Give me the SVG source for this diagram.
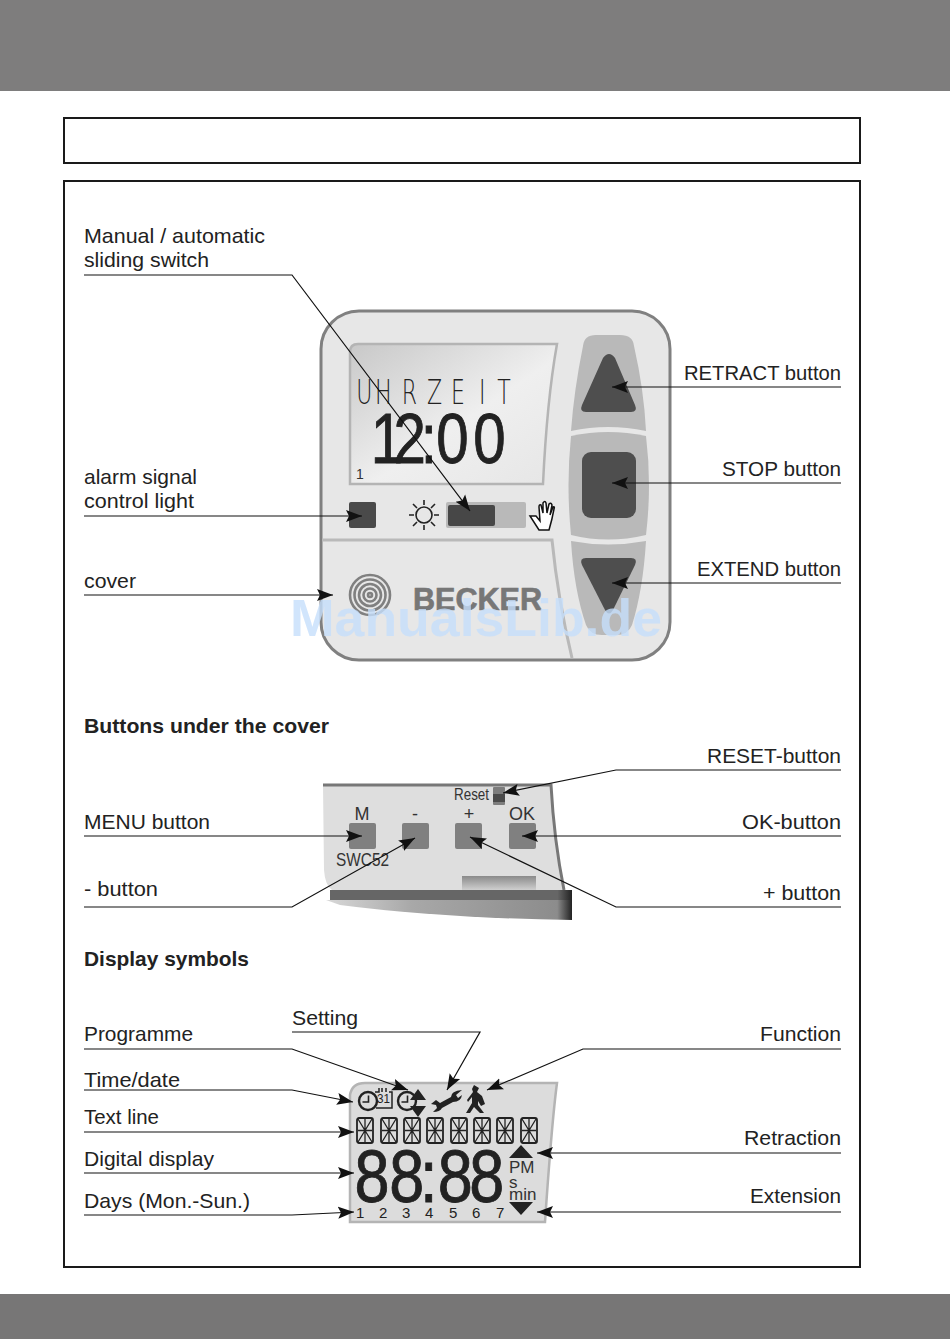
<svg xmlns="http://www.w3.org/2000/svg" xmlns:xlink="http://www.w3.org/1999/xlink" width="950" height="1339" viewBox="0 0 950 1339">
<style>
text{font-family:"Liberation Sans",Arial,sans-serif;fill:#222}
.l{font-size:21px}
.h{font-size:21px;font-weight:bold}
.c{fill:none;stroke:#111;stroke-width:1.2;marker-end:url(#a)}
.n{font-size:18px;fill:#333;text-anchor:middle}
.b{fill:#808080}
</style>
<defs>
<marker id="a" markerUnits="userSpaceOnUse" markerWidth="18" markerHeight="14" refX="16" refY="7" orient="auto">
<path d="M16 7L0 1L3 7L0 13Z" fill="#111"/>
</marker>
<linearGradient id="lcd" x1="0" y1="0" x2="1" y2="1"><stop offset="0" stop-color="#c8c8c8"/><stop offset=".55" stop-color="#efefef"/><stop offset="1" stop-color="#e6e6e6"/></linearGradient>
<linearGradient id="slot" x1="0" y1="0" x2="0" y2="1"><stop offset="0" stop-color="#8a8a8a"/><stop offset="1" stop-color="#cfcfcf"/></linearGradient>
<linearGradient id="rim" x1="0" y1="0" x2="1" y2="0"><stop offset="0" stop-color="#d8d8d8"/><stop offset=".35" stop-color="#a8a8a8"/><stop offset=".94" stop-color="#8c8c8c"/><stop offset="1" stop-color="#222"/></linearGradient>
<linearGradient id="rim2" x1="0" y1="0" x2="1" y2="0"><stop offset="0" stop-color="#666"/><stop offset=".94" stop-color="#666"/><stop offset="1" stop-color="#222"/></linearGradient>
<g id="seg"><rect x="0" y="0" width="16" height="25" rx="2" fill="none" stroke="#222" stroke-width="1.8"/><path d="M8 1V24M1 12.5H15M1 1L15 24M15 1L1 24" fill="none" stroke="#222" stroke-width="1.3"/></g>
<g id="clock"><circle r="9" fill="#dcdcdc" stroke="#222" stroke-width="2.4"/><path d="M0.5 -5.5V1H-5.5" fill="none" stroke="#222" stroke-width="1.6"/></g>
</defs>
<rect width="950" height="1339" fill="#fff"/>
<rect id="top-bar" width="950" height="91" fill="#7e7d7d"/>
<rect id="bottom-bar" y="1294" width="950" height="45" fill="#777676"/>
<rect id="title-box" x="64" y="118" width="796" height="45" fill="none" stroke="#1a1a1a" stroke-width="2"/>
<rect id="main-box" x="64" y="181" width="796" height="1086" fill="none" stroke="#1a1a1a" stroke-width="2"/>

<g id="device">
<rect x="321" y="311" width="349" height="349" rx="38" fill="#e7e7e7" stroke="#808080" stroke-width="3"/>
<path d="M350 484V352Q350 344 358 344H557Q547 400 543 484Z" fill="url(#lcd)" stroke="#b4b4b4" stroke-width="2.5"/>
<path d="M583 346Q584 335 596 335H620Q633 335 634 346Q644 390 646 431Q608 423 571 431Q574 390 583 346Z" fill="#b9b9b9"/>
<path d="M571 436Q608 428 646 436Q652 485 646 535Q608 544 571 535Q566 485 571 436Z" fill="#b9b9b9"/>
<path d="M571 541Q608 548 646 541Q643 590 632 625Q628 635 616 635H602Q590 635 586 625Q574 590 571 541Z" fill="#b9b9b9"/>
<path d="M603 358Q609 350 615 358L635 405Q638 412 631 412H586Q579 412 582 405Z" fill="#4e4e4e"/>
<rect x="582" y="452" width="54" height="66" rx="9" fill="#4e4e4e"/>
<path d="M586 558H631Q638 558 635 565L613 610Q609 617 605 610L582 565Q579 558 586 558Z" fill="#4e4e4e"/>
<text transform="scale(.65 1)" x="548 577 618 657 694 737 765" y="404" font-size="34" style="font-family:'DejaVu Sans','Liberation Sans',sans-serif;font-weight:200;fill:#222">UHRZEIT</text>
<text transform="scale(.82 1)" x="452 480 513 532 577" y="463" font-size="71" style="fill:#222;stroke:#222;stroke-width:.9">12:00</text>
<text x="356" y="479" font-size="14" style="fill:#333">1</text>
<rect x="349" y="502" width="27" height="26" rx="2" fill="#4a4a4a"/>
<g fill="none" stroke="#222" stroke-width="1.6"><circle cx="424" cy="515" r="8"/><path d="M424 500V505M424 525V530M409 515H414M434 515H439M413 504L417 508M431 522L435 526M435 504L431 508M417 522L413 526"/></g>
<rect x="446" y="502" width="80" height="26" rx="2" fill="#b9b9b9"/>
<rect x="448" y="505" width="47" height="21" rx="2" fill="#474747"/>
<path d="M530 516L536 516L540 521L539 507Q539 504 541 505L543 513L543 503Q545 500 546 503L547 513L549 504Q551 502 552 505L550 515L553 507Q555 506 554 509Q552 520 549 530L539 530Z" fill="#fff" stroke="#111" stroke-width="1.5"/>
<path d="M322 540H552Q558 600 572 658" fill="none" stroke="#b9b9b9" stroke-width="3"/>
<g fill="none" stroke="#808080" stroke-width="2.6"><circle cx="370" cy="595" r="20"/><circle cx="370" cy="595" r="15.5"/><circle cx="370" cy="595" r="11"/><circle cx="370" cy="595" r="6.5"/><circle cx="370" cy="595" r="2"/></g>
<text x="413" y="610" font-size="32" font-weight="bold" textLength="129" lengthAdjust="spacingAndGlyphs" style="fill:#777;stroke:#777;stroke-width:.7">BECKER</text>
</g>

<g id="under-cover">
<path d="M323 785H551Q554 840 564 890H332Q325 885 324 870Z" fill="#dedede"/>
<path d="M323 785H551Q554 840 564 890" fill="none" stroke="#777" stroke-width="3"/>
<rect x="462" y="876" width="74" height="14" fill="url(#slot)"/>
<rect x="330" y="890" width="242" height="10" fill="url(#rim2)"/>
<path d="M326 900H572V920Q440 918 340 905Z" fill="url(#rim)"/>
<rect x="349" y="823" width="27" height="26" rx="2" class="b"/>
<rect x="402" y="823" width="27" height="26" rx="2" class="b"/>
<rect x="455" y="823" width="27" height="26" rx="2" class="b"/>
<rect x="509" y="823" width="27" height="26" rx="2" class="b"/>
<rect x="493" y="787" width="12" height="18" rx="1" fill="#7d7d7d"/>
<rect x="493" y="794" width="12" height="8" fill="#4a4a4a"/>
<text x="454" y="800" font-size="16" textLength="35" lengthAdjust="spacingAndGlyphs" style="fill:#333">Reset</text>
<text x="362" y="820" class="n">M</text>
<text x="415" y="820" class="n">-</text>
<text x="469" y="820" class="n">+</text>
<text x="522" y="820" class="n">OK</text>
<text x="336" y="866" font-size="18" textLength="53" lengthAdjust="spacingAndGlyphs" style="fill:#333">SWC52</text>
</g>

<g id="display">
<path d="M350 1222V1095Q352 1083 365 1083H557Q552 1120 545 1222Z" fill="#dcdcdc" stroke="#b4b4b4" stroke-width="2.5"/>
<path d="M375 1092H379V1088M382 1092V1088M386 1092V1088M389 1092H392V1108H376" fill="none" stroke="#222" stroke-width="1.5"/>
<use xlink:href="#clock" href="#clock" x="368" y="1101"/>
<text x="377" y="1103" font-size="13" textLength="13" lengthAdjust="spacingAndGlyphs" style="fill:#222">31</text>
<use xlink:href="#clock" href="#clock" x="407" y="1101"/>
<path d="M418 1089L426 1100H410ZM418 1117L426 1106H410Z" fill="#222"/>
<path d="M431 1104L436 1100L440 1103L451 1097Q451 1091 462 1090L456 1095L458 1098L462 1095Q461 1102 453 1102L442 1108Q440 1112 433 1112L437 1108L436 1105Z" fill="#222"/>
<path d="M474 1085L479 1088L477 1092L482 1096L485 1104L481 1106L478 1101L478 1105L484 1113H480L474 1107L470 1113H466L472 1103L472 1097L468 1102L467 1100L473 1092L472 1089Z" fill="#222"/>
<use xlink:href="#seg" href="#seg" x="357" y="1118"/>
<use xlink:href="#seg" href="#seg" x="381" y="1118"/>
<use xlink:href="#seg" href="#seg" x="404" y="1118"/>
<use xlink:href="#seg" href="#seg" x="427" y="1118"/>
<use xlink:href="#seg" href="#seg" x="451" y="1118"/>
<use xlink:href="#seg" href="#seg" x="474" y="1118"/>
<use xlink:href="#seg" href="#seg" x="497" y="1118"/>
<use xlink:href="#seg" href="#seg" x="521" y="1118"/>
<text transform="scale(.85 1)" x="417 458 494 515 552" y="1202" font-size="74" style="fill:#222;stroke:#222;stroke-width:.9">88:88</text>
<path d="M509 1158L521 1145L533 1158ZM509 1202L521 1215L533 1202Z" fill="#222"/>
<text x="509" y="1173" font-size="17" style="fill:#333">PM</text>
<text x="509" y="1188" font-size="17" style="fill:#333">s</text>
<text x="509" y="1200" font-size="17" style="fill:#333">min</text>
<g font-size="15"><text x="356" y="1218">1</text><text x="379" y="1218">2</text><text x="402" y="1218">3</text><text x="425" y="1218">4</text><text x="449" y="1218">5</text><text x="472" y="1218">6</text><text x="496" y="1218">7</text></g>
</g>

<text x="290" y="636" font-size="52" font-weight="bold" textLength="372" lengthAdjust="spacingAndGlyphs" style="fill:#c6defb;fill-opacity:.8">ManualsLib.de</text>

<g id="connectors">
<path class="c" d="M84 275H292L470 511"/>
<path class="c" d="M841 387H612"/>
<path class="c" d="M841 483H612"/>
<path class="c" d="M841 583H612"/>
<path class="c" d="M84 516H362"/>
<path class="c" d="M84 595H333"/>
<path class="c" d="M841 770H616L503 793"/>
<path class="c" d="M84 836H362"/>
<path class="c" d="M841 836H522"/>
<path class="c" d="M84 907H292L415 838"/>
<path class="c" d="M841 907H616L470 837"/>
<path class="c" d="M84 1049H292L408 1090"/>
<path class="c" d="M292 1032H480L447 1090"/>
<path class="c" d="M841 1049H583L487 1090"/>
<path class="c" d="M84 1090H292L353 1102"/>
<path class="c" d="M84 1132H354"/>
<path class="c" d="M84 1173H354"/>
<path class="c" d="M84 1215H292L354 1212"/>
<path class="c" d="M841 1153H537"/>
<path class="c" d="M841 1212H537"/>
</g>

<g id="labels">
<text x="84" y="243" class="l" textLength="181" lengthAdjust="spacingAndGlyphs">Manual / automatic</text>
<text x="84" y="267" class="l" textLength="125" lengthAdjust="spacingAndGlyphs">sliding switch</text>
<text x="684" y="380" class="l" textLength="157" lengthAdjust="spacingAndGlyphs">RETRACT button</text>
<text x="722" y="476" class="l" textLength="119" lengthAdjust="spacingAndGlyphs">STOP button</text>
<text x="697" y="576" class="l" textLength="144" lengthAdjust="spacingAndGlyphs">EXTEND button</text>
<text x="84" y="484" class="l" textLength="113" lengthAdjust="spacingAndGlyphs">alarm signal</text>
<text x="84" y="508" class="l" textLength="110" lengthAdjust="spacingAndGlyphs">control light</text>
<text x="84" y="588" class="l" textLength="52" lengthAdjust="spacingAndGlyphs">cover</text>
<text x="84" y="733" class="h" textLength="245" lengthAdjust="spacingAndGlyphs">Buttons under the cover</text>
<text x="707" y="763" class="l" textLength="134" lengthAdjust="spacingAndGlyphs">RESET-button</text>
<text x="84" y="829" class="l" textLength="126" lengthAdjust="spacingAndGlyphs">MENU button</text>
<text x="742" y="829" class="l" textLength="99" lengthAdjust="spacingAndGlyphs">OK-button</text>
<text x="84" y="896" class="l" textLength="74" lengthAdjust="spacingAndGlyphs">- button</text>
<text x="763" y="900" class="l" textLength="78" lengthAdjust="spacingAndGlyphs">+ button</text>
<text x="84" y="966" class="h" textLength="165" lengthAdjust="spacingAndGlyphs">Display symbols</text>
<text x="292" y="1025" class="l" textLength="66" lengthAdjust="spacingAndGlyphs">Setting</text>
<text x="84" y="1041" class="l" textLength="109" lengthAdjust="spacingAndGlyphs">Programme</text>
<text x="760" y="1041" class="l" textLength="81" lengthAdjust="spacingAndGlyphs">Function</text>
<text x="84" y="1087" class="l" textLength="96" lengthAdjust="spacingAndGlyphs">Time/date</text>
<text x="84" y="1124" class="l" textLength="75" lengthAdjust="spacingAndGlyphs">Text line</text>
<text x="84" y="1166" class="l" textLength="130" lengthAdjust="spacingAndGlyphs">Digital display</text>
<text x="84" y="1208" class="l" textLength="166" lengthAdjust="spacingAndGlyphs">Days (Mon.-Sun.)</text>
<text x="744" y="1145" class="l" textLength="97" lengthAdjust="spacingAndGlyphs">Retraction</text>
<text x="750" y="1203" class="l" textLength="91" lengthAdjust="spacingAndGlyphs">Extension</text>
</g>
</svg>
